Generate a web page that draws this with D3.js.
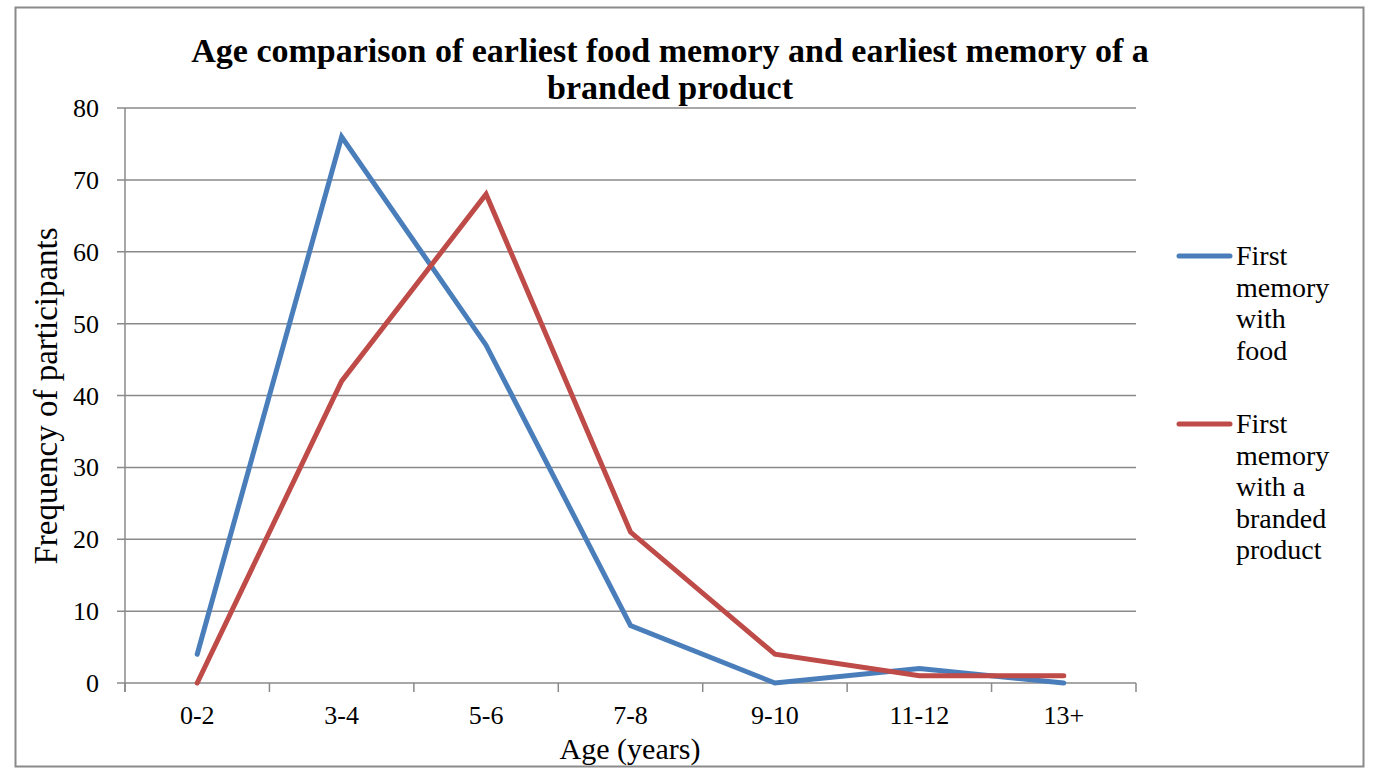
<!DOCTYPE html>
<html><head><meta charset="utf-8">
<script src="https://cdn.jsdelivr.net/npm/d3@7"></script>
<style>body{margin:0;background:#fff}svg{display:block}text{font-family:"Liberation Serif",serif;fill:#000}</style>
</head><body>
<script>
const categories = ["0-2","3-4","5-6","7-8","9-10","11-12","13+"];
const foodValues = [4,76,47,8,0,2,0];
const brandValues = [0,42,68,21,4,1,1];
const yTicks = [0,10,20,30,40,50,60,70,80];
const seriesNames = [["First","memory","with","food"],["First","memory","with a","branded","product"]];
const colors = ["#4a7ebb","#be4b48"];

const W=1384,H=780;
const svg=d3.select("body").append("svg").attr("width",W).attr("height",H);
svg.append("rect").attr("x",15.5).attr("y",7.5).attr("width",1348).attr("height",759).attr("fill","none").attr("stroke","#8a8a8a").attr("stroke-width",2);

const L=125,R=1136,T=108,B=683;
const x=d3.scaleBand().domain(categories).range([L,R]);
const y=d3.scaleLinear().domain([0,80]).range([B,T]);

// grid
svg.append("g").selectAll("line").data(yTicks).join("line")
 .attr("x1",L-8).attr("x2",R).attr("y1",d=>y(d)).attr("y2",d=>y(d)).attr("stroke","#8a8a8a").attr("stroke-width",1.5);
// y axis line
svg.append("line").attr("x1",L).attr("x2",L).attr("y1",T).attr("y2",B+9).attr("stroke","#8a8a8a").attr("stroke-width",1.5);
// x ticks
const xt=categories.map(c=>x(c)).concat([R]);
svg.append("g").selectAll("line").data(xt).join("line")
 .attr("x1",d=>d).attr("x2",d=>d).attr("y1",B).attr("y2",B+9).attr("stroke","#8a8a8a").attr("stroke-width",1.5);
// y labels
svg.append("g").selectAll("text").data(yTicks).join("text")
 .attr("x",L-26).attr("y",d=>y(d)+9).attr("text-anchor","end").attr("font-size",26).text(d=>d);
// x labels
svg.append("g").selectAll("text").data(categories).join("text")
 .attr("x",d=>x(d)+x.bandwidth()/2).attr("y",724).attr("text-anchor","middle").attr("font-size",26).text(d=>d);

const line=d3.line().x((d,i)=>x(categories[i])+x.bandwidth()/2).y(d=>y(d));
[foodValues,brandValues].forEach((vals,k)=>{
 svg.append("path").attr("d",line(vals)).attr("fill","none").attr("stroke",colors[k]).attr("stroke-width",5).attr("stroke-linejoin","miter").attr("stroke-linecap","round");
});

// title
svg.append("text").attr("x",670).attr("y",62).attr("text-anchor","middle").attr("font-size",34).attr("font-weight","bold").text("Age comparison of earliest food memory and earliest memory of a");
svg.append("text").attr("x",670).attr("y",99).attr("text-anchor","middle").attr("font-size",34).attr("font-weight","bold").text("branded product");
// axis titles
svg.append("text").attr("x",630).attr("y",759).attr("text-anchor","middle").attr("font-size",30).text("Age (years)");
svg.append("text").attr("transform","translate(57,396) rotate(-90)").attr("text-anchor","middle").attr("font-size",33).text("Frequency of participants");

// legend
const legY=[256,424];
seriesNames.forEach((lines,k)=>{
 svg.append("line").attr("x1",1179).attr("x2",1230).attr("y1",legY[k]).attr("y2",legY[k]).attr("stroke",colors[k]).attr("stroke-width",5).attr("stroke-linecap","round");
 const t=svg.append("text").attr("x",1236).attr("y",legY[k]+9).attr("font-size",28);
 lines.forEach((s,i)=>t.append("tspan").attr("x",1236).attr("dy",i?31.5:0).text(s));
});
</script>
</body></html>
